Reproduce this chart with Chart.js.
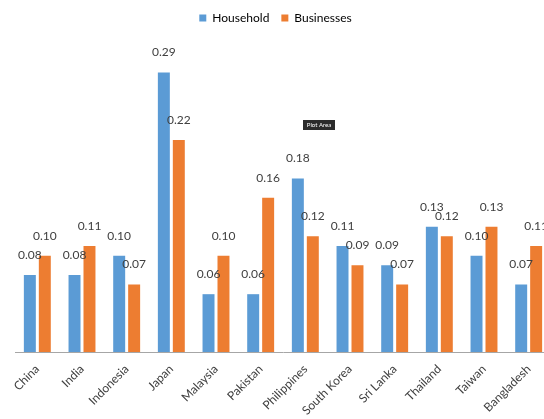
<!DOCTYPE html>
<html>
<head>
<meta charset="utf-8">
<script src="https://cdn.jsdelivr.net/npm/chart.js@4.4.0/dist/chart.umd.min.js"></script>
<style>
  html, body { margin: 0; padding: 0; background: #fff; overflow: hidden; }
  #wrap { width: 544px; height: 419px; overflow: hidden; }
</style>
</head>
<body>
<div id="wrap"><canvas id="chart" width="552" height="419"></canvas></div>
<script>
// Data
const countries = ['China', 'India', 'Indonesia', 'Japan', 'Malaysia', 'Pakistan',
    'Philippines', 'South Korea', 'Sri Lanka', 'Thailand', 'Taiwan', 'Bangladesh'];
const household = [0.08, 0.08, 0.10, 0.29, 0.06, 0.06, 0.18, 0.11, 0.09, 0.13, 0.10, 0.07];
const businesses = [0.10, 0.11, 0.07, 0.22, 0.10, 0.16, 0.12, 0.09, 0.07, 0.12, 0.13, 0.11];

const BLUE = '#5B9BD5';
const ORANGE = '#ED7D31';
const FONT = 'Lato, "Open Sans", sans-serif';

// Draw the value above every bar (no datalabels plugin offline)
const valueLabels = {
    id: 'valueLabels',
    afterDatasetsDraw(chart) {
        const ctx = chart.ctx;
        ctx.save();
        ctx.font = '12px ' + FONT;
        ctx.fillStyle = '#404040';
        ctx.textAlign = 'center';
        ctx.textBaseline = 'middle';
        chart.data.datasets.forEach((ds, i) => {
            const meta = chart.getDatasetMeta(i);
            meta.data.forEach((bar, j) => {
                ctx.fillText(ds.data[j].toFixed(2), bar.x, bar.y - 20);
            });
        });
        ctx.restore();
    }
};

// The little "Plot Area" hover tip that is in the screenshot
const plotAreaTip = {
    id: 'plotAreaTip',
    afterDraw(chart) {
        const ctx = chart.ctx;
        const x = 303, y = 120;
        ctx.save();
        ctx.fillStyle = '#2b2b2b';
        ctx.fillRect(x, y, 32, 10);
        ctx.fillStyle = '#ffffff';
        ctx.font = '6px ' + FONT;
        ctx.textAlign = 'center';
        ctx.textBaseline = 'middle';
        ctx.fillText('Plot Area', x + 16, y + 5.5);
        ctx.restore();
    }
};

new Chart(document.getElementById('chart'), {
    type: 'bar',
    data: {
        labels: countries,
        datasets: [
            {
                label: 'Household',
                data: household,
                backgroundColor: BLUE,
                categoryPercentage: 0.67,
                barPercentage: 0.8
            },
            {
                label: 'Businesses',
                data: businesses,
                backgroundColor: ORANGE,
                categoryPercentage: 0.67,
                barPercentage: 0.8
            }
        ]
    },
    options: {
        responsive: false,
        animation: false,
        layout: {
            padding: { left: 0, right: 1, top: 0, bottom: 0 }
        },
        plugins: {
            legend: {
                position: 'top',
                labels: {
                    boxWidth: 7,
                    boxHeight: 7,
                    padding: 12,
                    color: '#000',
                    font: { family: FONT, size: 12 }
                }
            },
            tooltip: { enabled: false }
        },
        scales: {
            x: {
                grid: { display: false, drawTicks: false },
                border: { display: true, color: '#a6a6a6', width: 1 },
                ticks: {
                    color: '#404040',
                    font: { family: FONT, size: 12 },
                    minRotation: 45,
                    maxRotation: 45,
                    padding: 10
                },
                afterFit(scale) { scale.height = 67; }
            },
            y: {
                min: 0,
                max: 0.33,
                grid: { display: false, drawTicks: false },
                border: { display: false },
                ticks: { display: false },
                afterFit(scale) { scale.width = 15; }
            }
        }
    },
    plugins: [valueLabels, plotAreaTip]
});
</script>
</body>
</html>
